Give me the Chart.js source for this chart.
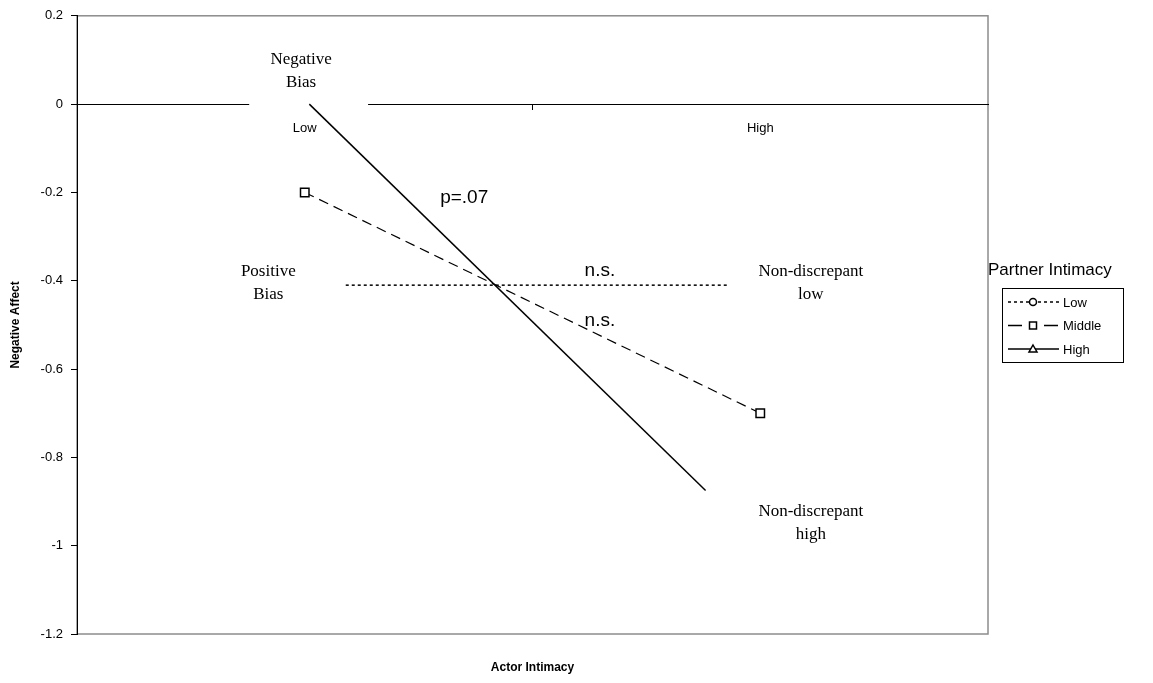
<!DOCTYPE html>
<html lang="en">
<head>
  <meta charset="UTF-8">
  <title>Negative Affect by Actor Intimacy</title>
  <script src="https://cdn.jsdelivr.net/npm/chart.js"></script>
  <style>
    body, html {
      margin: 0;
      padding: 0;
      background: #fff;
    }
    #wrap {
      width: 1153px;
      height: 683px;
    }
  </style>
</head>
<body>
  <div id="wrap">
    <canvas id="chart" width="1153" height="683"></canvas>
  </div>

  <script>
    // Data
    var categories = ['Low', 'High'];
    var seriesNames = ['Low', 'Middle', 'High'];
    var yTicks = [0.2, 0, -0.2, -0.4, -0.6, -0.8, -1, -1.2];

    // x in category units: 0..2, Low centred at 0.5, High at 1.5
    var lowX = [0.59, 1.43];
    var lowValues = [-0.41, -0.41];
    var middleX = [0.5, 1.5];
    var middleValues = [-0.2, -0.7];
    var highX = [0.51, 1.38];
    var highValues = [0, -0.875];

    var SANS = "'Liberation Sans', Arial, sans-serif";
    var SERIF = "'Liberation Serif', 'Times New Roman', serif";

    function points(xs, ys) {
      return xs.map(function (x, i) { return { x: x, y: ys[i] }; });
    }

    // text boxes placed in data units
    var notes = [
      { x: 0.492, y: 0.075, lines: ['Negative', 'Bias'], font: '17px ' + SERIF },
      { x: 0.42, y: -0.405, lines: ['Positive', 'Bias'], font: '17px ' + SERIF },
      { x: 1.611, y: -0.405, lines: ['Non-discrepant', 'low'], font: '17px ' + SERIF },
      { x: 1.611, y: -0.948, lines: ['Non-discrepant', 'high'], font: '17px ' + SERIF },
      { x: 0.85, y: -0.213, lines: ['p=.07'], font: '19px ' + SANS },
      { x: 1.148, y: -0.378, lines: ['n.s.'], font: '19px ' + SANS },
      { x: 1.148, y: -0.491, lines: ['n.s.'], font: '19px ' + SANS }
    ];

    function drawMarker(ctx, style, x, y) {
      ctx.save();
      ctx.setLineDash([]);
      ctx.fillStyle = '#fff';
      ctx.strokeStyle = '#000';
      ctx.lineWidth = 1.5;
      ctx.beginPath();
      if (style === 'circle') {
        ctx.arc(x, y, 3.5, 0, Math.PI * 2);
      } else if (style === 'rect') {
        ctx.rect(x - 3.5, y - 3.5, 7, 7);
      } else {
        ctx.moveTo(x, y - 4);
        ctx.lineTo(x + 4, y + 3);
        ctx.lineTo(x - 4, y + 3);
        ctx.closePath();
      }
      ctx.fill();
      ctx.stroke();
      ctx.restore();
    }

    var decorPlugin = {
      id: 'decor',
      beforeDraw: function (chart) {
        var ctx = chart.ctx, a = chart.chartArea;
        ctx.save();
        ctx.fillStyle = '#fff';
        ctx.fillRect(0, 0, chart.width, chart.height);
        ctx.strokeStyle = '#8c8c8c';
        ctx.lineWidth = 1.5;
        ctx.strokeRect(a.left, a.top, a.right - a.left, a.bottom - a.top);
        ctx.restore();
      },
      beforeDatasetsDraw: function (chart) {
        // white text box behind "Negative Bias" hides part of the zero line
        var ctx = chart.ctx, xs = chart.scales.x, ys = chart.scales.y;
        var l = xs.getPixelForValue(0.378), r = xs.getPixelForValue(0.639);
        var t = ys.getPixelForValue(0.14), b = ys.getPixelForValue(0) + 1.5;
        ctx.save();
        ctx.fillStyle = '#fff';
        ctx.fillRect(l, t, r - l, b - t);
        ctx.restore();
      },
      afterDraw: function (chart) {
        var ctx = chart.ctx, xs = chart.scales.x, ys = chart.scales.y;
        ctx.save();
        ctx.fillStyle = '#000';
        ctx.textAlign = 'center';
        ctx.textBaseline = 'middle';
        notes.forEach(function (n) {
          ctx.font = n.font;
          var cx = xs.getPixelForValue(n.x);
          var cy = ys.getPixelForValue(n.y);
          var lh = 23;
          var y0 = cy - (n.lines.length - 1) * lh / 2;
          n.lines.forEach(function (txt, i) {
            ctx.fillText(txt, cx, y0 + i * lh);
          });
        });

        // legend
        ctx.textAlign = 'left';
        ctx.font = '17px ' + SANS;
        ctx.fillText('Partner Intimacy', 988, 270);
        ctx.strokeStyle = '#000';
        ctx.lineWidth = 1;
        ctx.strokeRect(1002.5, 288.5, 121, 74);
        ctx.font = '13px ' + SANS;
        var legendDash = [[3, 3], [14, 22], []];
        chart.data.datasets.forEach(function (ds, i) {
          var y = 302 + i * 23.5;
          ctx.save();
          ctx.strokeStyle = '#000';
          ctx.lineWidth = 1.5;
          ctx.setLineDash(legendDash[i]);
          ctx.beginPath();
          ctx.moveTo(1008, y);
          ctx.lineTo(1059, y);
          ctx.stroke();
          ctx.restore();
          drawMarker(ctx, ds.pointStyle, 1033, y);
          ctx.fillStyle = '#000';
          ctx.fillText(ds.label, 1063, y + 1);
        });
        ctx.restore();
      }
    };

    var ctx = document.getElementById('chart').getContext('2d');
    var chart = new Chart(ctx, {
      type: 'line',
      data: {
        datasets: [
          {
            label: seriesNames[0],
            data: points(lowX, lowValues),
            borderColor: '#000',
            borderWidth: 1.5,
            borderDash: [3, 3],
            pointStyle: 'circle',
            pointRadius: 0,
            fill: false
          },
          {
            label: seriesNames[1],
            data: points(middleX, middleValues),
            borderColor: '#000',
            borderWidth: 1.2,
            borderDash: [10, 6],
            pointStyle: 'rect',
            pointRadius: 6,
            pointBackgroundColor: '#fff',
            pointBorderColor: '#000',
            pointBorderWidth: 1.5,
            fill: false
          },
          {
            label: seriesNames[2],
            data: points(highX, highValues),
            borderColor: '#000',
            borderWidth: 1.5,
            pointStyle: 'triangle',
            pointRadius: 0,
            fill: false
          }
        ]
      },
      options: {
        responsive: false,
        animation: false,
        layout: {
          padding: { top: 14, right: 165, bottom: 0, left: 0 }
        },
        plugins: {
          legend: { display: false },
          tooltip: { enabled: false }
        },
        scales: {
          x: {
            type: 'linear',
            min: 0,
            max: 2,
            position: 'bottom',
            ticks: { display: false },
            grid: { display: false },
            border: { display: false },
            title: {
              display: true,
              text: 'Actor Intimacy',
              color: '#000',
              font: { family: SANS, size: 12, weight: 'bold' },
              padding: { top: 0, bottom: 8 }
            },
            afterFit: function (s) { s.height = 49; }
          },
          x0: {
            axis: 'x',
            type: 'linear',
            min: 0,
            max: 2,
            position: { y: 0 },
            afterBuildTicks: function (s) {
              s.ticks = [0, 0.5, 1, 1.5, 2].map(function (v) { return { value: v }; });
            },
            ticks: {
              autoSkip: false,
              maxRotation: 0,
              padding: 12,
              color: '#000',
              font: { family: SANS, size: 13 },
              callback: function (v) {
                if (v === 0.5) return categories[0];
                if (v === 1.5) return categories[1];
                return '';
              }
            },
            grid: {
              drawOnChartArea: false,
              drawTicks: true,
              tickLength: 5,
              color: function (c) {
                return (c.tick && c.tick.value === 1) ? '#000' : 'rgba(0,0,0,0)';
              }
            },
            border: { display: true, color: '#000', width: 1 }
          },
          y: {
            type: 'linear',
            min: -1.2,
            max: 0.2,
            afterBuildTicks: function (s) {
              s.ticks = yTicks.map(function (v) { return { value: v }; });
            },
            ticks: {
              padding: 8,
              color: '#000',
              font: { family: SANS, size: 13 },
              callback: function (v) { return String(parseFloat(Number(v).toFixed(1))); }
            },
            grid: {
              drawOnChartArea: false,
              drawTicks: true,
              tickLength: 6,
              color: '#000'
            },
            border: { display: true, color: '#000', width: 1 },
            title: {
              display: true,
              text: 'Negative Affect',
              color: '#000',
              font: { family: SANS, size: 12, weight: 'bold' },
              padding: { top: 8, bottom: 0 }
            },
            afterFit: function (s) { s.width = 77; }
          }
        }
      },
      plugins: [decorPlugin]
    });
  </script>
</body>
</html>
